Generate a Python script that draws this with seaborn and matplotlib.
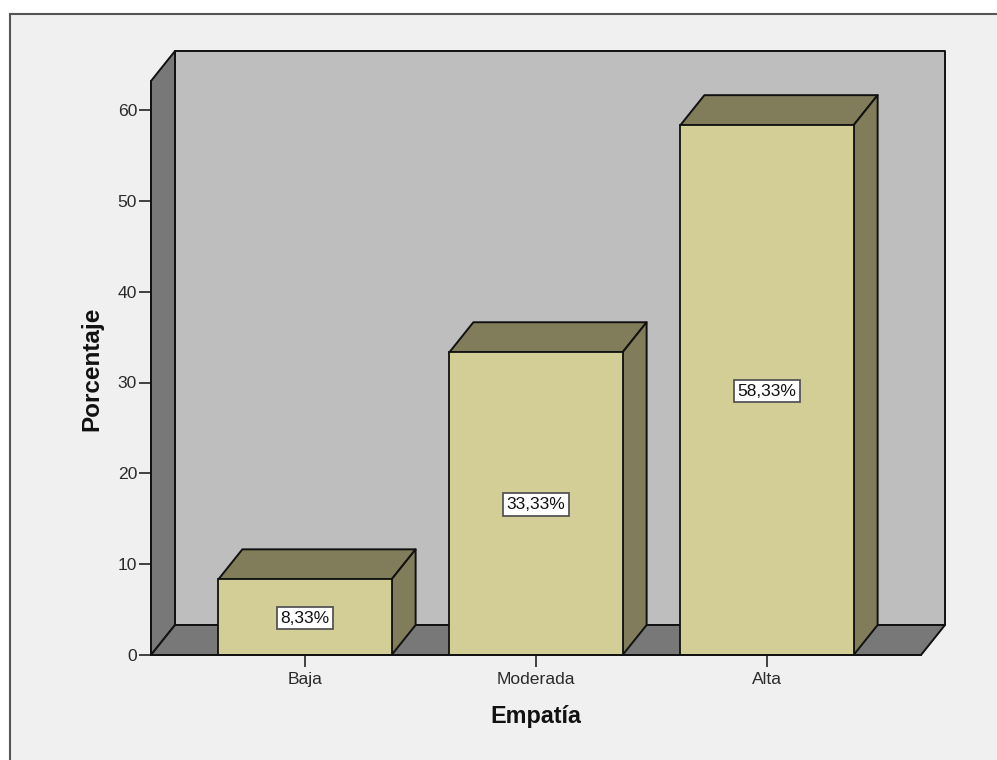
import matplotlib
matplotlib.use("Agg")
import matplotlib.pyplot as plt
from matplotlib.patches import Polygon, Rectangle
import pandas as pd
import seaborn as sns

categories = ["Baja", "Moderada", "Alta"]
percentages = [8.33, 33.33, 58.33]
y_ticks = [0, 10, 20, 30, 40, 50, 60]

W, H = 997, 760
PAGE = "#f0f0f0"
WALL = "#bebebe"
WALL_DARK = "#787878"
BAR_FRONT = "#d2ce96"
BAR_SHADE = "#817d5b"
INK = "#111111"
TICK_TEXT = "#2a2a2a"

sns.set_theme(style="white")
plt.rcParams["font.family"] = ["Liberation Sans", "DejaVu Sans"]

fig = plt.figure(figsize=(W / 100, H / 100), dpi=100, facecolor="white")

# Chart frame: runs off the right and bottom edges of the page
fig.add_artist(Rectangle((10 / W, -0.02), 1.02, (H - 14) / H + 0.02,
                         transform=fig.transFigure, facecolor=PAGE,
                         edgecolor="#555555", linewidth=1.5, zorder=-1))

ax = fig.add_axes([151 / W, (H - 655) / H, (921 - 151) / W, (655 - 81) / H])
ax.patch.set_alpha(0)

frame = pd.DataFrame({"Empatía": categories, "Porcentaje": percentages})
sns.barplot(data=frame, x="Empatía", y="Porcentaje", ax=ax, color=BAR_FRONT,
            saturation=1, width=0.75, edgecolor=INK, linewidth=1.3, zorder=3)

# Categories sit 231 px apart, the first one 154 px from the left wall
x0, x1 = -154 / 231, 616 / 231
y1 = 574 / (545 / 60)
ax.set_xlim(x0, x1)
ax.set_ylim(0, y1)

# Oblique depth of the 3-D box, 24 px across and 30 px up, in data units
dx = 24 * (x1 - x0) / 770
dy = 30 * y1 / 574


def face(points, color, z):
    ax.add_patch(Polygon(points, closed=True, facecolor=color, edgecolor=INK,
                         linewidth=1.4, joinstyle="round", clip_on=False, zorder=z))


bars = list(ax.patches[:len(percentages)])

face([(x0 + dx, dy), (x1 + dx, dy), (x1 + dx, y1 + dy), (x0 + dx, y1 + dy)], WALL, 1)
face([(x0, 0), (x0 + dx, dy), (x0 + dx, y1 + dy), (x0, y1)], WALL_DARK, 1.1)
face([(x0, 0), (x1, 0), (x1 + dx, dy), (x0 + dx, dy)], WALL_DARK, 1.1)

for bar, value in zip(bars, percentages):
    left, right = bar.get_x(), bar.get_x() + bar.get_width()
    face([(left, value), (right, value), (right + dx, value + dy), (left + dx, value + dy)],
         BAR_SHADE, 2)
    face([(right, 0), (right + dx, dy), (right + dx, value + dy), (right, value)],
         BAR_SHADE, 2)
    ax.annotate(f"{value:.2f}%".replace(".", ","), ((left + right) / 2, value / 2),
                xytext=(0, -0.7), textcoords="offset points",
                ha="center", va="center", fontsize=12.5, color=INK, zorder=5,
                bbox=dict(boxstyle="square,pad=0.22", facecolor="white",
                          edgecolor="#555555", linewidth=1.3))

ax.set_yticks(y_ticks)
ax.set_xticks(range(len(categories)), categories)
ax.tick_params(axis="both", which="major", length=8.5, width=1.1, color=INK,
               labelsize=12.6, labelcolor=TICK_TEXT, left=True, bottom=True)
ax.tick_params(axis="y", pad=1.5)
ax.tick_params(axis="x", pad=3.5)
for side in ("top", "right"):
    ax.spines[side].set_visible(False)
for side in ("left", "bottom"):
    ax.spines[side].set_color(INK)
    ax.spines[side].set_linewidth(1.2)
    ax.spines[side].set_zorder(4)

ax.set_xlabel("")
ax.set_ylabel("")
fig.text(536 / W, 1 - 716 / H, "Empatía", ha="center", va="center",
         fontsize=16.8, fontweight="bold", color=INK)
fig.text(91.5 / W, 1 - 369 / H, "Porcentaje", ha="center", va="center", rotation=90,
         fontsize=17.5, fontweight="bold", color=INK)

fig.savefig("out.png", dpi=100, facecolor="white")
